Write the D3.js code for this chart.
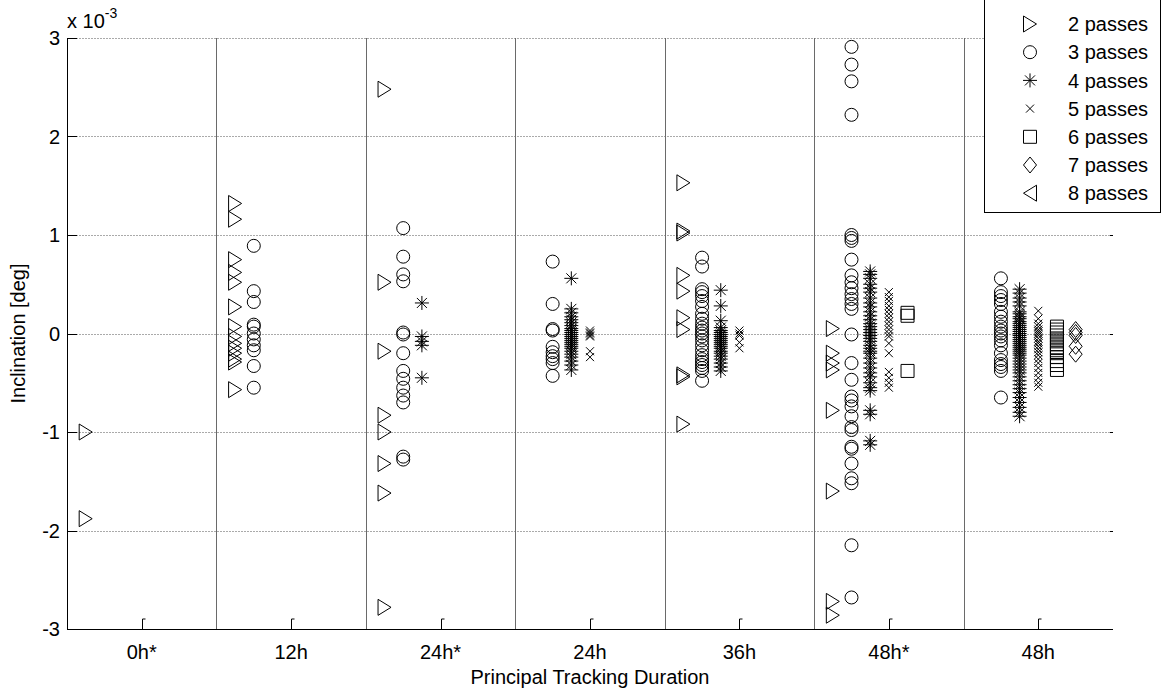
<!DOCTYPE html>
<meta charset="utf-8">
<style>
  body { margin: 0; background: #fff; }
  svg { font-family: "Liberation Sans", Arial, sans-serif; }
  .mark { fill: none; stroke: #000; stroke-width: 1; }
  .hgrid { stroke: #aaa; stroke-dasharray: 2,1; }
</style>
<body>
<script src="https://cdn.jsdelivr.net/npm/d3@7"></script>
<script>

  var categories = ["0h*", "12h", "24h*", "24h", "36h", "48h*", "48h"];
  var yTicks = [-3, -2, -1, 0, 1, 2, 3];

  // inclination values (x 10^-3 deg), one list per category
  var passes2 = [
    [-1.0, -1.88],
    [1.32, 1.16, 0.75, 0.62, 0.52, 0.27, 0.07, -0.03, -0.10, -0.15, -0.20, -0.26, -0.29, -0.57],
    [2.48, 0.52, -0.18, -0.83, -1.0, -1.32, -1.62, -2.78],
    [],
    [1.53, 1.04, 1.02, 0.59, 0.43, 0.16, 0.04, -0.42, -0.44, -0.92],
    [0.05, -0.2, -0.3, -0.37, -0.78, -1.6, -2.72, -2.86],
    []
  ];
  var passes3 = [
    [],
    [0.89, 0.43, 0.32, 0.09, 0.07, 0.0, -0.06, -0.12, -0.17, -0.33, -0.55],
    [1.07, 0.78, 0.60, 0.53, 0.01, -0.01, -0.2, -0.38, -0.46, -0.55, -0.63, -0.7, -1.25, -1.28],
    [0.73, 0.30, 0.045, 0.03, -0.135, -0.19, -0.23, -0.26, -0.30, -0.43],
    [0.77, 0.68, 0.45, 0.42, 0.38, 0.33, 0.27, 0.2, 0.15, 0.1, 0.06, 0.03, 0.0, -0.03, -0.07, -0.12, -0.17, -0.22, -0.26, -0.29, -0.32, -0.35, -0.38, -0.48],
    [2.91, 2.73, 2.56, 2.22, 1.0, 0.97, 0.94, 0.75, 0.59, 0.52, 0.46, 0.40, 0.35, 0.30, 0.25, -0.01, -0.3, -0.47, -0.64, -0.68, -0.74, -0.84, -0.95, -0.98, -1.15, -1.17, -1.32, -1.47, -1.52, -2.15, -2.68],
    [0.56, 0.42, 0.38, 0.34, 0.3, 0.22, 0.17, 0.12, 0.07, 0.03, 0.0, -0.03, -0.07, -0.12, -0.2, -0.27, -0.31, -0.34, -0.38, -0.65]
  ];
  var passes4 = [
    [],
    [],
    [0.31, -0.03, -0.08, -0.12, -0.45],
    [0.56, 0.25, 0.21, 0.17, 0.14, 0.11, 0.08, 0.05, 0.03, 0.01, -0.01, -0.03, -0.05, -0.07, -0.09, -0.11, -0.13, -0.15, -0.18, -0.21, -0.24, -0.28, -0.32, -0.37],
    [0.44, 0.28, 0.13, 0.06, 0.03, 0.01, -0.01, -0.03, -0.05, -0.07, -0.09, -0.11, -0.13, -0.15, -0.18, -0.2, -0.23, -0.26, -0.3, -0.34, -0.38],
    [0.63, 0.6, 0.56, 0.5, 0.46, 0.42, 0.36, 0.31, 0.27, 0.22, 0.18, 0.14, 0.1, 0.07, 0.04, 0.01, -0.02, -0.05, -0.08, -0.12, -0.15, -0.18, -0.2, -0.25, -0.3, -0.35, -0.4, -0.44, -0.5, -0.55, -0.58, -0.78, -0.82, -1.09, -1.13],
    [0.45, 0.41, 0.36, 0.32, 0.28, 0.22, 0.2, 0.17, 0.15, 0.12, 0.1, 0.08, 0.06, 0.04, 0.02, 0.0, -0.02, -0.04, -0.06, -0.08, -0.1, -0.12, -0.14, -0.16, -0.18, -0.2, -0.22, -0.25, -0.28, -0.31, -0.34, -0.37, -0.4, -0.44, -0.48, -0.52, -0.56, -0.6, -0.65, -0.7, -0.75, -0.8, -0.84]
  ];
  var passes5 = [
    [],
    [],
    [],
    [0.03, 0.01, 0.0, -0.02, -0.03, -0.18, -0.24],
    [0.03, 0.0, -0.02, -0.09, -0.15],
    [0.42, 0.37, 0.33, 0.28, 0.24, 0.2, 0.16, 0.12, 0.08, 0.04, 0.0, -0.03, -0.1, -0.2, -0.39, -0.45, -0.5, -0.55],
    [0.23, 0.15, 0.1, 0.07, 0.04, 0.02, 0.0, -0.02, -0.05, -0.08, -0.1, -0.13, -0.16, -0.19, -0.22, -0.26, -0.3, -0.35, -0.4, -0.45, -0.5, -0.54]
  ];
  var passes6 = [
    [], [], [], [], [],
    [0.21, 0.18, -0.38],
    [0.07, 0.04, 0.01, -0.02, -0.05, -0.08, -0.11, -0.14, -0.17, -0.2, -0.24, -0.28, -0.32, -0.37]
  ];
  var passes7 = [
    [], [], [], [], [], [],
    [0.04, 0.01, -0.02, -0.13, -0.21]
  ];
  var passes8 = [[], [], [], [], [], [], []];

  var series = [
    { name: "2 passes", n: 2, marker: "tri-right", values: passes2 },
    { name: "3 passes", n: 3, marker: "circle", values: passes3 },
    { name: "4 passes", n: 4, marker: "star", values: passes4 },
    { name: "5 passes", n: 5, marker: "cross", values: passes5 },
    { name: "6 passes", n: 6, marker: "square", values: passes6 },
    { name: "7 passes", n: 7, marker: "diamond", values: passes7 },
    { name: "8 passes", n: 8, marker: "tri-left", values: passes8 }
  ];

  var W = 1162, H = 692;
  var plotLeft = 67, plotRight = 1113, plotTop = 38, plotBottom = 629;

  var x = d3.scaleLinear().domain([0.5, 7.5]).range([plotLeft, plotRight]);
  var y = d3.scaleLinear().domain([-3, 3]).range([plotBottom, plotTop]);

  // MATLAB-like marker outlines
  function markerPath(kind, cx, cy) {
    var p = d3.path();
    if (kind === "tri-right") {
      p.moveTo(cx - 6.5, cy - 8); p.lineTo(cx + 6.5, cy); p.lineTo(cx - 6.5, cy + 8); p.closePath();
    } else if (kind === "tri-left") {
      p.moveTo(cx + 6.5, cy - 8); p.lineTo(cx - 6.5, cy); p.lineTo(cx + 6.5, cy + 8); p.closePath();
    } else if (kind === "circle") {
      p.moveTo(cx + 6.5, cy); p.arc(cx, cy, 6.5, 0, 2 * Math.PI);
    } else if (kind === "star") {
      p.moveTo(cx - 7, cy); p.lineTo(cx + 7, cy);
      p.moveTo(cx, cy - 7); p.lineTo(cx, cy + 7);
      p.moveTo(cx - 5, cy - 5); p.lineTo(cx + 5, cy + 5);
      p.moveTo(cx - 5, cy + 5); p.lineTo(cx + 5, cy - 5);
    } else if (kind === "cross") {
      p.moveTo(cx - 4, cy - 4); p.lineTo(cx + 4, cy + 4);
      p.moveTo(cx - 4, cy + 4); p.lineTo(cx + 4, cy - 4);
    } else if (kind === "square") {
      p.rect(cx - 6.5, cy - 6.5, 13, 13);
    } else if (kind === "diamond") {
      p.moveTo(cx, cy - 8); p.lineTo(cx + 6.5, cy); p.lineTo(cx, cy + 8); p.lineTo(cx - 6.5, cy); p.closePath();
    }
    return p.toString();
  }

  var svg = d3.select("body").append("svg")
    .attr("width", W)
    .attr("height", H);

  // horizontal dotted grid
  svg.append("g").selectAll("line")
    .data(yTicks.filter(d => d > -3))
    .join("line")
    .attr("class", "hgrid")
    .attr("x1", plotLeft).attr("x2", plotRight)
    .attr("y1", d => Math.round(y(d)) + 0.5).attr("y2", d => Math.round(y(d)) + 0.5);

  // separators between categories
  svg.append("g").selectAll("line")
    .data(d3.range(1.5, categories.length, 1))
    .join("line")
    .attr("x1", d => Math.round(x(d)) + 0.5).attr("x2", d => Math.round(x(d)) + 0.5)
    .attr("y1", plotTop).attr("y2", plotBottom)
    .attr("stroke", "#6a6a6a");

  // axes lines
  svg.append("line")
    .attr("x1", plotLeft + 0.5).attr("x2", plotLeft + 0.5)
    .attr("y1", plotTop).attr("y2", plotBottom + 0.5)
    .attr("stroke", "#000");
  svg.append("line")
    .attr("x1", plotLeft).attr("x2", plotRight)
    .attr("y1", plotBottom + 0.5).attr("y2", plotBottom + 0.5)
    .attr("stroke", "#000");

  // y ticks and labels
  var yt = svg.append("g").selectAll("g").data(yTicks).join("g");
  yt.append("line")
    .attr("x1", plotLeft).attr("x2", plotLeft + 10)
    .attr("y1", d => Math.round(y(d)) + 0.5).attr("y2", d => Math.round(y(d)) + 0.5)
    .attr("stroke", "#000");
  yt.append("line")
    .attr("x1", plotRight - 3).attr("x2", plotRight)
    .attr("y1", d => Math.round(y(d)) + 0.5).attr("y2", d => Math.round(y(d)) + 0.5)
    .attr("stroke", "#000");
  yt.append("text")
    .attr("x", plotLeft - 7)
    .attr("y", d => y(d))
    .attr("dy", "0.36em")
    .attr("text-anchor", "end")
    .attr("font-size", 20)
    .text(d => d);

  // x ticks and labels
  var xt = svg.append("g").selectAll("g").data(categories).join("g");
  xt.append("path")
    .attr("d", (d, i) => {
      var cx = Math.round(x(i + 1)) + 0.5;
      return "M" + cx + "," + plotBottom + "V" + (plotBottom - 10) + "h3";
    })
    .attr("fill", "none")
    .attr("stroke", "#000");
  xt.append("text")
    .attr("x", (d, i) => x(i + 1))
    .attr("y", 659)
    .attr("text-anchor", "middle")
    .attr("font-size", 20)
    .text(d => d);

  // exponent label
  var ex = svg.append("text").attr("x", plotLeft).attr("y", 28).attr("font-size", 20);
  ex.append("tspan").text("x 10");
  ex.append("tspan").attr("dy", -10).attr("font-size", 14).text("-3");

  // axis titles
  svg.append("text")
    .attr("x", x(4))
    .attr("y", 684)
    .attr("text-anchor", "middle")
    .attr("font-size", 20)
    .text("Principal Tracking Duration");
  svg.append("text")
    .attr("transform", "translate(25," + y(0) + ") rotate(-90)")
    .attr("text-anchor", "middle")
    .attr("font-size", 20)
    .text("Inclination [deg]");

  // data markers
  series.forEach(s => {
    var pts = [];
    s.values.forEach((vals, ci) => {
      vals.forEach(v => pts.push({ cx: ci + 1 + (s.n - 5) * 0.125, v: v }));
    });
    svg.append("g").selectAll("path")
      .data(pts)
      .join("path")
      .attr("class", "mark")
      .attr("d", d => markerPath(s.marker, x(d.cx), y(d.v)));
  });

  // legend
  var lg = svg.append("g");
  lg.append("rect")
    .attr("x", 984.5).attr("y", -1)
    .attr("width", 176).attr("height", 213.5)
    .attr("fill", "#fff")
    .attr("stroke", "#000");
  var rows = lg.selectAll("g").data(series).join("g")
    .attr("transform", (d, i) => "translate(0," + (24 + i * 28.2) + ")");
  rows.append("path")
    .attr("class", "mark")
    .attr("d", d => markerPath(d.marker, 1030, 0));
  rows.append("text")
    .attr("x", 1068)
    .attr("dy", "0.36em")
    .attr("font-size", 20)
    .text(d => d.name);

</script>
</body>
